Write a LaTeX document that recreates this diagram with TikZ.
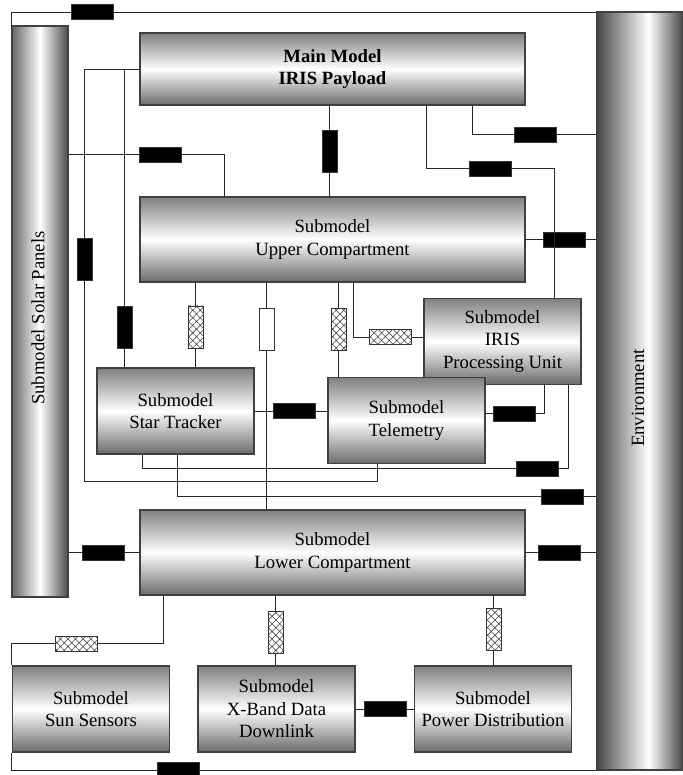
\documentclass[tikz,border=0pt]{standalone}
\usepackage{fontspec}
\setmainfont{Liberation Serif}
\usetikzlibrary{calc, positioning, patterns.meta}

\pgfdeclarehorizontalshading{envshade}{100bp}{color(0bp)=(black!72); color(25bp)=(black!72); color(55bp)=(white); color(75bp)=(black!72); color(100bp)=(black!72)}

\begin{document}
\begin{tikzpicture}[x=0.025cm, y=-0.025cm,
    wire/.style={draw=black!85, line width=0.7pt},
    txt/.style={font=\fontsize{13.3}{16}\selectfont, align=center},
    model/.style={txt, draw=black!75, line width=0.9pt, top color=black!50, bottom color=black!58, middle color=white, inner sep=0pt},
    small/.style={model, minimum width=3.925cm, minimum height=2.15cm},
    wide/.style={model, minimum width=9.625cm, minimum height=2.125cm},
    cyl/.style={draw=black!75, line width=0.9pt, left color=black!60, right color=black!70, middle color=white, inner sep=0pt},
    hres/.style={draw=black!80, line width=0.5pt, minimum width=1.05cm, minimum height=0.375cm, inner sep=0pt},
    vres/.style={hres, minimum width=0.375cm, minimum height=1.05cm},
    solid res/.style={fill=black},
    hatch res/.style={fill=white, postaction={pattern={Hatch[angle=45,distance=3.8pt,line width=0.4pt]}, pattern color=black!75}},
    open res/.style={fill=white}]
    \useasboundingbox (0,0) rectangle (683,775);

    % outer models
    \node[cyl, minimum width=1.4cm, minimum height=14.275cm] (solar) at (40,311.5) {};
    \node[txt, rotate=90] (solarlbl) at (38,318) {Submodel Solar Panels};
    \node[draw=black!75, line width=0.9pt, shading=envshade, inner sep=0pt, minimum width=2.15cm, minimum height=18.95cm] (env) at (640,391) {};
    \node[txt, rotate=90] (envlbl) at (638,398) {Environment};

    % submodels
    \node[wide, minimum height=1.8cm, font=\fontsize{13.3}{16}\selectfont\bfseries] (main) at (332.5,69) {Main Model\\IRIS Payload};
    \node[wide] (upper) at (332.5,239.5) {Submodel\\Upper Compartment};
    \node[wide] (lower) at (332.5,552.5) {Submodel\\Lower Compartment};
    \node[small] (star) at (175.5,411) {Submodel\\Star Tracker};
    \node[small] (ipu) at (502.5,341.5) {Submodel\\IRIS\\Processing Unit};
    \node[small] (telem) at (406.5,420.5) {Submodel\\Telemetry};
    \node[small] (sun) at (91,709) {Submodel\\Sun Sensors};
    \node[small] (xband) at (276.5,709) {Submodel\\X-Band Data\\Downlink};
    \node[small] (power) at (493,709) {Submodel\\Power Distribution};

    % connections
    \node[hres, solid res] (rtop) at (92,12) {};
    \node[vres, solid res] (rmainup) at (329.5,151.5) {};
    \node[hres, solid res] (rmainenv) at (535,134.5) {};
    \node[hres, solid res] (rmainipu) at (490,168.5) {};
    \node[hres, solid res] (rsolarup) at (160.5,154.5) {};
    \node[vres, solid res] (rmaintel) at (84.5,259) {};
    \node[vres, solid res] (rmainstar) at (124.5,327) {};
    \node[hres, solid res] (rupenv) at (564,239.5) {};
    \node[vres, hatch res] (rupstar) at (195.5,327) {};
    \node[vres, open res] (ruplow) at (266.5,329.5) {};
    \node[vres, hatch res] (ruptel) at (338.5,329.5) {};
    \node[hres, hatch res] (rupipu) at (390.5,337) {};
    \node[hres, solid res] (rstartel) at (294,411) {};
    \node[hres, solid res] (rtelipu) at (514,413.5) {};
    \node[hres, solid res] (ripustar) at (537,468.5) {};
    \node[hres, solid res] (rstarenv) at (562,496.5) {};
    \node[hres, solid res] (rsolarlow) at (103.5,552.5) {};
    \node[hres, solid res] (rlowenv) at (559,552.5) {};
    \node[hres, hatch res] (rlowsun) at (76.5,643.5) {};
    \node[vres, hatch res] (rlowx) at (275.5,632) {};
    \node[vres, hatch res] (rlowpow) at (493.5,629.5) {};
    \node[hres, solid res] (rxpow) at (385,709) {};
    \node[hres, solid res] (rsunenv) at (178.5,770) {};

    % main model
    \draw[wire] (main.south -| rmainup) -- (rmainup) -- (upper.north -| rmainup);
    \draw[wire] (472,0 |- main.south) |- (rmainenv) -- (rmainenv -| env.west);
    \draw[wire] (426,0 |- main.south) |- (rmainipu) -| (554,0 |- ipu.north);
    \draw[wire] (main.west) -| (rmaintel);
    \draw[wire] (rmaintel) -- (84.5,481) -| (377,0 |- telem.south);
    \draw[wire] (main.west -| rmainstar) -- (rmainstar) -- (star.north -| rmainstar);

    % solar panels
    \draw[wire] (solar.north west) -- (solar.north west |- rtop) -- (rtop) -- (rtop -| env.west);
    \draw[wire] (solar.east |- rsolarup) -- (rsolarup) -| (224,0 |- upper.north);
    \draw[wire] (solar.east |- rsolarlow) -- (rsolarlow) -- (lower.west);

    % upper compartment
    \draw[wire] (upper.east) -- (rupenv) -- (rupenv -| env.west);
    \draw[wire] (upper.south -| rupstar) -- (rupstar) -- (star.north -| rupstar);
    \draw[wire] (upper.south -| ruplow) -- (ruplow) -- (lower.north -| ruplow);
    \draw[wire] (upper.south -| ruptel) -- (ruptel) -- (telem.north -| ruptel);
    \draw[wire] (353,0 |- upper.south) |- (rupipu) -- (ipu.west |- rupipu);

    % star tracker, telemetry, processing unit
    \draw[wire] (star.east) -- (rstartel) -- (rstartel -| telem.west);
    \draw[wire] (telem.east |- rtelipu) -- (rtelipu) -| (544,0 |- ipu.south);
    \draw[wire] (568,0 |- ipu.south) |- (ripustar) -| (142,0 |- star.south);
    \draw[wire] (177,0 |- star.south) |- (rstarenv) -- (rstarenv -| env.west);

    % lower compartment
    \draw[wire] (lower.east) -- (rlowenv) -- (rlowenv -| env.west);
    \draw[wire] (163,0 |- lower.south) |- (rlowsun) -| (sun.north west);
    \draw[wire] (lower.south -| rlowx) -- (rlowx) -- (xband.north -| rlowx);
    \draw[wire] (lower.south -| rlowpow) -- (rlowpow) -- (power.north -| rlowpow);
    \draw[wire] (xband.east) -- (rxpow) -- (power.west);
    \draw[wire] (sun.south west) |- (rsunenv) -- (rsunenv -| env.west);
\end{tikzpicture}
\end{document}
